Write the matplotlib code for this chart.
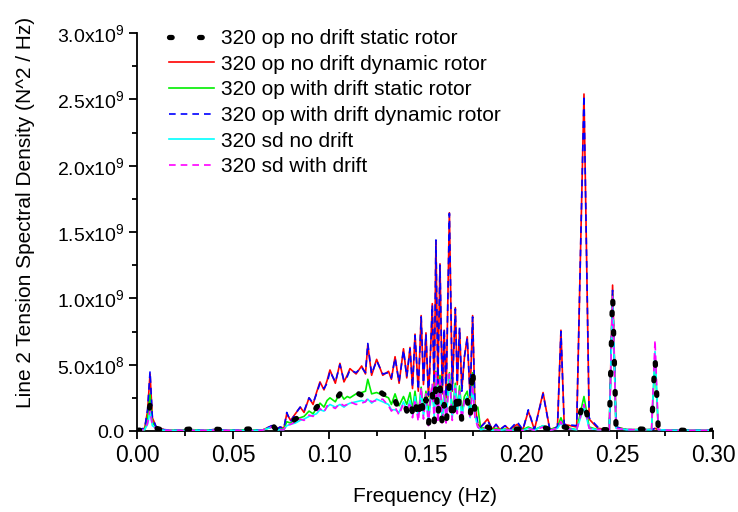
import numpy as np
import matplotlib
matplotlib.use("Agg")
import matplotlib.pyplot as plt
from matplotlib.ticker import FuncFormatter, MultipleLocator

plt.rcParams["font.family"] = ["Liberation Sans", "DejaVu Sans"]
plt.rcParams["mathtext.fontset"] = "custom"
plt.rcParams["mathtext.rm"] = "Liberation Sans"
plt.rcParams["mathtext.default"] = "regular"

# Frequency samples (Hz)
freq = [0.000, 0.004, 0.0055, 0.0068, 0.008, 0.010, 0.014, 0.020, 0.028, 0.035,
        0.040, 0.048, 0.058, 0.065, 0.0703, 0.0725, 0.0745, 0.0765, 0.078, 0.080,
        0.0825, 0.085, 0.087, 0.0896, 0.0917, 0.0935, 0.0953, 0.0974, 0.099, 0.1005,
        0.1033, 0.1057, 0.1078, 0.1095, 0.1109, 0.1141, 0.117, 0.119, 0.1202, 0.1222,
        0.1248, 0.128, 0.131, 0.1325, 0.1344, 0.1365, 0.1388, 0.1405, 0.1422, 0.1435,
        0.1448, 0.1465, 0.148, 0.1492, 0.1505, 0.1518, 0.1528, 0.1538, 0.1548, 0.1557,
        0.1567, 0.1578, 0.159, 0.160, 0.161, 0.1627, 0.1642, 0.1658, 0.1668, 0.168,
        0.1692, 0.1705, 0.172, 0.1735, 0.1748, 0.176, 0.1775, 0.179, 0.1826, 0.185,
        0.187, 0.189, 0.1917, 0.194, 0.198, 0.201, 0.2038, 0.207, 0.2115, 0.215,
        0.219, 0.2208, 0.2225, 0.229, 0.2328, 0.2355, 0.240, 0.246, 0.2477, 0.2495,
        0.255, 0.262, 0.268, 0.2698, 0.2715, 0.278, 0.285, 0.293, 0.300]

# Spectral density values in units of 1e8 N^2/Hz
op_nodrift_static = [0.05, 0.1, 0.6, 2.0, 0.5, 0.2, 0.05, 0.05, 0.15, 0.05,
                     0.15, 0.05, 0.15, 0.05, 0.5, 0.1, 0.2, 0.15, 0.8, 0.6,
                     0.9, 1.1, 1.0, 1.5, 1.3, 1.8, 2.0, 1.9, 2.2, 2.4,
                     2.3, 2.8, 2.2, 2.5, 2.7, 2.9, 2.7, 2.8, 3.2, 3.0,
                     3.2, 2.8, 2.6, 1.7, 2.3, 1.6, 2.4, 1.5, 2.6, 1.3,
                     2.5, 0.6, 2.9, 1.0, 2.4, 0.4, 2.2, 2.8, 0.6, 3.8,
                     0.8, 3.5, 0.3, 2.0, 0.4, 3.6, 0.5, 3.0, 1.0, 2.7,
                     0.7, 2.0, 2.4, 0.7, 5.0, 1.2, 0.5, 0.2, 0.3, 0.1,
                     0.2, 0.1, 0.15, 0.1, 0.15, 0.1, 0.2, 0.1, 0.3, 0.1,
                     0.3, 0.9, 0.3, 0.1, 2.5, 0.3, 0.1, 0.1, 10.4, 0.3,
                     0.1, 0.15, 0.1, 5.6, 0.1, 0.1, 0.05, 0.1, 0.05]

op_nodrift_dynamic = [0.1, 0.2, 1.5, 4.3, 1.0, 0.3, 0.1, 0.05, 0.1, 0.05,
                      0.1, 0.05, 0.1, 0.05, 0.4, 0.1, 0.3, 0.2, 1.3, 0.8,
                      1.3, 1.8, 1.4, 2.5, 2.0, 2.9, 3.7, 3.1, 3.8, 4.6,
                      3.6, 5.1, 3.7, 4.2, 4.7, 4.3, 4.9, 4.3, 6.5, 4.2,
                      5.4, 4.2, 4.5, 3.9, 5.6, 3.6, 6.2, 4.0, 6.3, 3.2,
                      7.3, 3.0, 8.7, 3.5, 7.4, 2.6, 5.7, 9.6, 3.0, 14.3,
                      3.5, 12.6, 2.8, 7.6, 2.5, 16.45, 3.0, 9.3, 3.5, 7.7,
                      3.2, 5.5, 7.1, 2.5, 8.7, 2.0, 0.5, 0.3, 0.9, 0.1,
                      0.5, 0.1, 0.4, 0.1, 0.5, 0.1, 1.5, 0.1, 2.9, 0.1,
                      0.3, 7.6, 0.5, 0.3, 25.4, 0.9, 0.2, 0.1, 11.0, 0.3,
                      0.1, 0.1, 0.1, 0.2, 0.1, 0.05, 0.05, 0.05, 0.05]

op_drift_static = [0.05, 0.1, 1.0, 2.8, 0.7, 0.2, 0.05, 0.05, 0.1, 0.05,
                   0.1, 0.05, 0.1, 0.05, 0.3, 0.1, 0.2, 0.15, 0.7, 0.6,
                   0.9, 1.0, 1.1, 1.5, 1.3, 1.7, 2.1, 1.8, 2.3, 2.5,
                   2.2, 2.9, 2.4, 2.6, 2.5, 2.8, 2.9, 3.0, 3.9, 2.8,
                   2.9, 2.7, 2.5, 2.0, 2.8, 1.9, 2.6, 2.0, 2.9, 1.6,
                   3.0, 1.2, 3.3, 1.5, 3.0, 1.2, 2.6, 3.2, 1.5, 4.5,
                   1.6, 4.2, 1.0, 3.0, 1.2, 4.4, 1.3, 3.6, 1.6, 3.4,
                   1.4, 2.6, 3.0, 1.2, 4.4, 1.5, 1.8, 0.2, 0.3, 0.1,
                   0.2, 0.1, 0.15, 0.1, 0.15, 0.1, 0.3, 0.1, 0.4, 0.1,
                   0.3, 1.0, 0.3, 0.1, 2.6, 0.3, 0.1, 0.1, 10.3, 0.3,
                   0.1, 0.1, 0.1, 5.5, 0.1, 0.05, 0.05, 0.05, 0.05]

op_drift_dynamic = [0.1, 0.2, 1.6, 4.5, 1.0, 0.3, 0.1, 0.05, 0.1, 0.05,
                    0.1, 0.05, 0.1, 0.05, 0.4, 0.1, 0.3, 0.2, 1.4, 0.7,
                    1.3, 1.8, 1.5, 2.5, 2.1, 2.8, 3.6, 3.2, 3.6, 4.5,
                    3.7, 5.0, 3.8, 4.1, 4.6, 4.4, 4.8, 4.4, 6.6, 4.3,
                    5.3, 4.3, 4.4, 4.0, 5.5, 3.7, 6.1, 4.1, 6.2, 3.3,
                    7.2, 3.1, 8.6, 3.6, 7.3, 2.7, 5.6, 9.5, 3.1, 14.4,
                    3.6, 12.5, 2.9, 7.7, 2.6, 16.4, 3.1, 9.2, 3.6, 7.8,
                    3.0, 5.6, 7.0, 2.6, 8.6, 2.1, 0.5, 0.3, 0.8, 0.1,
                    0.5, 0.1, 0.4, 0.1, 0.7, 0.1, 1.6, 0.1, 2.8, 0.1,
                    0.3, 7.5, 0.5, 0.4, 25.3, 1.0, 0.3, 0.1, 10.6, 0.3,
                    0.1, 0.1, 0.1, 0.2, 0.1, 0.05, 0.05, 0.05, 0.05]

sd_nodrift = [0.05, 0.1, 0.5, 1.4, 0.4, 0.2, 0.05, 0.05, 0.05, 0.05,
              0.05, 0.05, 0.05, 0.05, 0.3, 0.05, 0.1, 0.1, 0.4, 0.5,
              0.6, 0.8, 0.9, 1.1, 1.2, 1.3, 1.6, 1.5, 1.8, 2.0,
              1.8, 2.0, 1.8, 2.0, 2.1, 2.2, 2.3, 2.2, 2.4, 2.1,
              2.4, 2.2, 2.0, 1.6, 1.6, 1.4, 2.2, 1.6, 2.3, 1.2,
              2.6, 1.0, 3.1, 1.1, 2.5, 0.8, 2.0, 3.5, 1.1, 4.2,
              1.2, 3.8, 0.8, 2.8, 0.9, 4.0, 1.0, 3.4, 1.5, 2.9,
              1.0, 2.2, 2.6, 1.0, 3.3, 1.2, 0.3, 0.1, 0.2, 0.05,
              0.1, 0.05, 0.1, 0.05, 0.1, 0.05, 0.2, 0.05, 0.4, 0.05,
              0.2, 0.6, 0.2, 0.1, 1.8, 0.2, 0.1, 0.1, 10.1, 0.2,
              0.1, 0.1, 0.1, 6.0, 0.1, 0.05, 0.05, 0.05, 0.05]

sd_drift = [0.05, 0.1, 0.6, 1.6, 0.4, 0.2, 0.05, 0.05, 0.05, 0.05,
            0.05, 0.05, 0.05, 0.05, 0.3, 0.05, 0.1, 0.1, 0.5, 0.5,
            0.7, 0.9, 0.8, 1.2, 1.1, 1.5, 1.7, 1.4, 1.9, 1.9,
            1.7, 2.1, 1.9, 2.0, 2.2, 2.0, 2.1, 2.2, 2.5, 2.2,
            2.3, 2.4, 1.9, 1.5, 1.8, 1.2, 2.1, 1.3, 2.2, 1.0,
            2.4, 0.7, 3.3, 0.9, 2.8, 0.4, 2.5, 3.6, 0.7, 4.4,
            0.6, 4.0, 0.5, 3.0, 0.6, 4.3, 0.8, 3.2, 1.3, 3.0,
            0.8, 2.4, 2.5, 0.9, 3.5, 1.0, 0.3, 0.1, 0.3, 0.05,
            0.1, 0.05, 0.1, 0.05, 0.1, 0.05, 0.2, 0.05, 0.3, 0.05,
            0.2, 0.7, 0.2, 0.1, 2.0, 0.2, 0.1, 0.1, 10.2, 0.2,
            0.1, 0.1, 0.1, 6.85, 0.1, 0.05, 0.05, 0.05, 0.05]

UNIT = 1e8
labels = ["320 op no drift static rotor", "320 op no drift dynamic rotor",
          "320 op with drift static rotor", "320 op with drift dynamic rotor",
          "320 sd no drift", "320 sd with drift"]

fig = plt.figure(figsize=(7.38, 5.12), dpi=100)
ax = fig.add_axes([137 / 738, 81 / 512, 576 / 738, 398 / 512])

f = np.array(freq)
lines = []
lines.append(ax.plot(f, np.array(op_nodrift_static) * UNIT, color="black", lw=3.8,
                     linestyle=(0, (0.5, 5.2)), dash_capstyle="round", zorder=7,
                     label=labels[0])[0])
lines.append(ax.plot(f, np.array(op_nodrift_dynamic) * UNIT, color="#ff0000", lw=1.2,
                     zorder=2, label=labels[1])[0])
lines.append(ax.plot(f, np.array(op_drift_static) * UNIT, color="#00ee00", lw=1.2,
                     zorder=3, label=labels[2])[0])
lines.append(ax.plot(f, np.array(op_drift_dynamic) * UNIT, color="#0000ff", lw=1.2,
                     linestyle=(0, (4, 3)), zorder=4, label=labels[3])[0])
lines.append(ax.plot(f, np.array(sd_nodrift) * UNIT, color="#00ffff", lw=1.2,
                     zorder=5, label=labels[4])[0])
lines.append(ax.plot(f, np.array(sd_drift) * UNIT, color="#ff00ff", lw=1.2,
                     linestyle=(0, (4, 3)), zorder=6, label=labels[5])[0])

ax.set_xlim(0, 0.30)
ax.set_ylim(0, 3.0e9)
ax.xaxis.set_major_locator(MultipleLocator(0.05))
ax.xaxis.set_minor_locator(MultipleLocator(0.025))
ax.yaxis.set_major_locator(MultipleLocator(5e8))
ax.yaxis.set_minor_locator(MultipleLocator(2.5e8))


def sci_fmt(v, pos):
    if v < 1:
        return "0.0" if abs(v) < 1 else ""
    e = int(np.floor(np.log10(v) + 1e-9))
    m = v / 10 ** e
    return f"{m:.1f}x10$^{{{e}}}$"


ax.yaxis.set_major_formatter(FuncFormatter(sci_fmt))
ax.xaxis.set_major_formatter(FuncFormatter(lambda v, p: f"{v:.2f}"))

for s in ["top", "right"]:
    ax.spines[s].set_visible(False)
for s in ["left", "bottom"]:
    ax.spines[s].set_linewidth(1.3)

ax.tick_params(axis="both", which="major", direction="out", length=6, width=1.3)
ax.tick_params(axis="both", which="minor", direction="out", length=3.5, width=1.3)
ax.tick_params(axis="x", labelsize=16.5, pad=3)
ax.tick_params(axis="y", labelsize=14, pad=3)

ax.set_xlabel("Frequency (Hz)", fontsize=15)
ax.set_ylabel("Line 2 Tension Spectral Density (N^2 / Hz)", fontsize=15)
ax.xaxis.set_label_coords(0.5, -0.141)
ax.yaxis.set_label_coords(-0.177, 0.548)

leg = ax.legend(handles=lines, loc="upper left", bbox_to_anchor=(0.0556, 1.01),
                frameon=False, fontsize=15, borderpad=0, borderaxespad=0,
                handlelength=2.16, handletextpad=0.33, labelspacing=0.32)

fig.savefig("out.png", dpi=100)
